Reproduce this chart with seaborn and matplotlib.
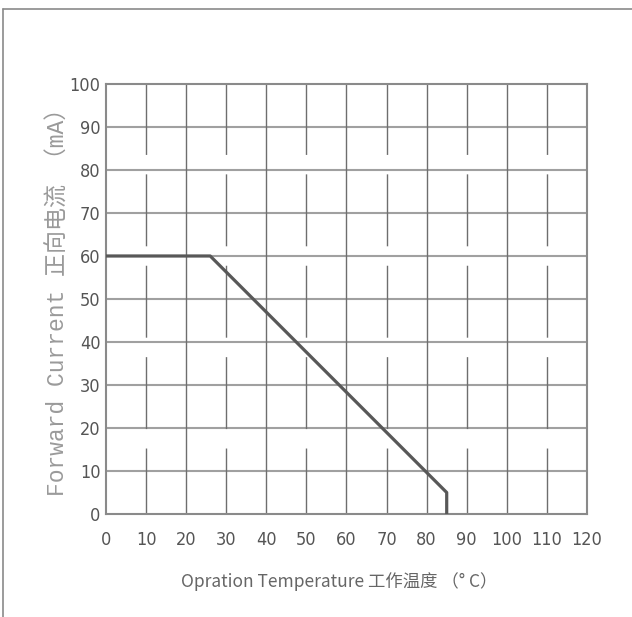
import matplotlib
matplotlib.use("Agg")
import matplotlib.pyplot as plt
from matplotlib.lines import Line2D
import numpy as np
import pandas as pd
import seaborn as sns

# Derating curve: forward current vs. operating temperature
temperature = [0, 26, 85, 85]
current = [60, 60, 5, 0]

x_ticks = [0, 10, 20, 30, 40, 50, 60, 70, 80, 90, 100, 110, 120]
y_ticks = [0, 10, 20, 30, 40, 50, 60, 70, 80, 90, 100]

x_label = "Opration Temperature 工作温度 （° C）"
y_label = "Forward Current 正向电流 （mA）"

sns.set_style("white")
plt.rcParams["lines.scale_dashes"] = False
plt.rcParams["font.family"] = ["DejaVu Sans", "Noto Sans CJK SC"]
plt.rcParams["font.stretch"] = "condensed"

df = pd.DataFrame({"temperature": temperature, "current": current})

fig = plt.figure(figsize=(6.32, 6.17), dpi=100)
ax = fig.add_axes([0.1677, 0.1669, 0.7611, 0.6970])

# grid: solid horizontals, solid even verticals, broken odd verticals
ax.hlines(y_ticks[1:-1], x_ticks[0], x_ticks[-1], color="#a0a0a0", lw=1.5, zorder=1)
even_x = x_ticks[2:-1:2]
odd_x = x_ticks[1:-1:2]
ax.vlines(even_x, y_ticks[0], y_ticks[-1], color="#6e6e6e", lw=1.0, zorder=1)
ax.vlines(odd_x, y_ticks[0], y_ticks[-1], color="#6e6e6e", lw=1.0, zorder=1,
          linestyles=[(4.3, (51.8, 14.0))])

sns.lineplot(data=df, x="temperature", y="current", estimator=None, sort=False,
             color="#585858", lw=2.3, ax=ax, zorder=3)

ax.set_xlim(x_ticks[0], x_ticks[-1])
ax.set_ylim(y_ticks[0], y_ticks[-1])
ax.set_xticks(x_ticks)
ax.set_yticks(y_ticks)
ax.tick_params(axis="both", length=0, labelsize=13, labelcolor="#555555")
ax.tick_params(axis="x", pad=12)
ax.tick_params(axis="y", pad=4)
for s in ax.spines.values():
    s.set_color("#8a8a8a")
    s.set_linewidth(1.5)

ax.set_xlabel(x_label, fontsize=12.5, color="#666666",
              family=["Noto Sans CJK SC", "DejaVu Sans"])
ax.xaxis.label.set_va("center")
ax.xaxis.set_label_coords(0.484, -0.158)

ax.set_ylabel(y_label, fontsize=16.6, color="#9a9a9a",
              family=["Liberation Mono", "Noto Sans CJK SC", "DejaVu Sans"])
ax.yaxis.label.set_va("center")
ax.yaxis.set_label_coords(-0.0998, 0.505)

# outer frame along the left and top edges
fx = 3 / 632
fy = 1 - 9 / 617
fig.add_artist(Line2D([fx, fx], [0, fy], transform=fig.transFigure, color="#8a8a8a", lw=1.2))
fig.add_artist(Line2D([fx, 1], [fy, fy], transform=fig.transFigure, color="#8a8a8a", lw=1.2))

fig.savefig("out.png", dpi=100, facecolor="white")
